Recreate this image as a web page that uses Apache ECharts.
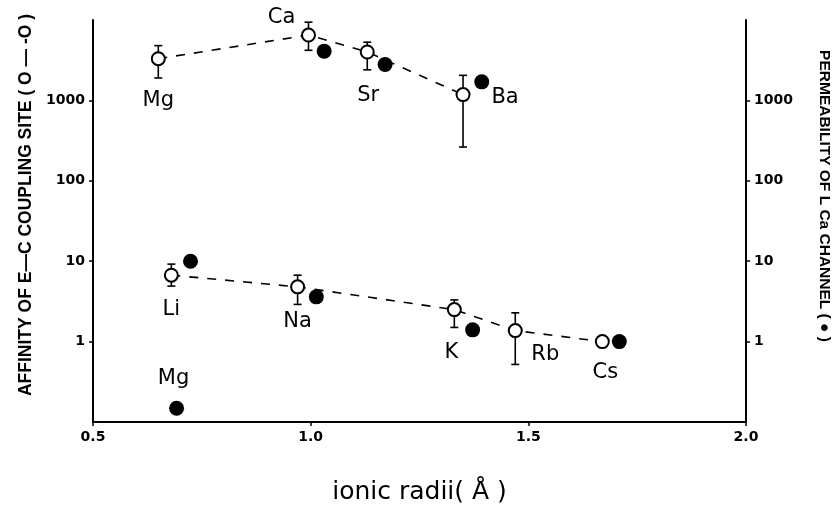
<!DOCTYPE html>
<html>
<head>
<meta charset="utf-8">
<script src="https://cdn.jsdelivr.net/npm/echarts@6/dist/echarts.min.js"></script>
<style>
html, body { margin: 0; padding: 0; background: #fff; }
#chart { width: 840px; height: 510px; }
</style>
</head>
<body>
<div id="chart"></div>
<script>
// open circles: affinity of E-C coupling site, divalent ions
var divalentIons = ['Mg', 'Ca', 'Sr', 'Ba'];
var divalentRadii = [0.65, 0.995, 1.13, 1.35];
var divalentAffinity = [3300, 6500, 4000, 1180];
var divalentErrHigh = [4800, 9400, 5300, 2050];
var divalentErrLow = [1900, 4200, 2400, 263];

// open circles: monovalent ions
var monovalentIons = ['Li', 'Na', 'K', 'Rb', 'Cs'];
var monovalentRadii = [0.68, 0.97, 1.33, 1.47, 1.67];
var monovalentAffinity = [6.7, 4.8, 2.5, 1.37, 1.0];
var monovalentErrHigh = [9.2, 6.7, 3.3, 2.28, null];
var monovalentErrLow = [4.9, 2.9, 1.5, 0.52, null];

// filled circles: permeability of L Ca channel
var permIons = ['Mg', 'Ca', 'Sr', 'Ba', 'Li', 'Na', 'K', 'Cs'];
var permRadii = [0.692, 1.031, 1.171, 1.393, 0.724, 1.013, 1.372, 1.709];
var permValues = [0.148, 4100, 2800, 1700, 10, 3.6, 1.4, 1.0];

var yTicks = [1, 10, 100, 1000];

// where each ion name sits relative to its marker (px)
var labelOffsets = {
    Mg: [0, 42], Ca: [-27, -17], Sr: [1, 44], Ba: [42, 3],
    Li: [0, 34], Na: [0, 35], K: [-3, 43], Rb: [30, 24], Cs: [3, 31]
};
var permLabelOffsets = { Mg: [-3, -30] };

var labelFont = { fontFamily: 'DejaVu Sans', fontSize: 21, color: '#000' };

function pointItems(names, xs, ys, offsets) {
    return names.map(function (n, i) {
        var item = { name: n, value: [xs[i], ys[i]] };
        if (offsets[n]) {
            item.label = Object.assign({ show: true, position: 'inside', offset: offsets[n], formatter: n }, labelFont);
        }
        return item;
    });
}

function errItems(xs, lo, hi) {
    var out = [];
    xs.forEach(function (x, i) {
        if (lo[i] != null) out.push([x, lo[i], hi[i]]);
    });
    return out;
}

function renderErr(params, api) {
    var x = api.value(0);
    var pLo = api.coord([x, api.value(1)]);
    var pHi = api.coord([x, api.value(2)]);
    var w = 4;
    var st = { stroke: '#000', lineWidth: 1.6 };
    return {
        type: 'group',
        children: [
            { type: 'line', shape: { x1: pLo[0], y1: pLo[1], x2: pHi[0], y2: pHi[1] }, style: st },
            { type: 'line', shape: { x1: pLo[0] - w, y1: pLo[1], x2: pLo[0] + w, y2: pLo[1] }, style: st },
            { type: 'line', shape: { x1: pHi[0] - w, y1: pHi[1], x2: pHi[0] + w, y2: pHi[1] }, style: st }
        ]
    };
}

var tickFont = { fontFamily: 'DejaVu Sans', fontWeight: 'bold', fontSize: 14, color: '#000' };

function yAxisCfg(pos, name, gap, rot, size, pad) {
    return {
        type: 'log',
        logBase: 10,
        min: 0.1,
        max: 10000,
        position: pos,
        name: name,
        nameLocation: 'middle',
        nameGap: gap,
        nameRotate: rot,
        nameTextStyle: { fontFamily: 'Liberation Sans', fontWeight: 'bold', fontSize: size, color: '#000', padding: pad },
        axisLine: { show: true, lineStyle: { color: '#000', width: 2 } },
        axisTick: { show: true, length: 4, customValues: yTicks, lineStyle: { color: '#000', width: 1.5 } },
        axisLabel: Object.assign({ customValues: yTicks, margin: 8, formatter: function (v) { return String(v); } }, tickFont),
        splitLine: { show: false },
        minorTick: { show: false }
    };
}

var lineBase = {
    type: 'line',
    symbol: 'circle',
    symbolSize: 13,
    itemStyle: { color: '#fff', borderColor: '#000', borderWidth: 2 },
    lineStyle: { color: '#000', width: 1.6, type: [9, 9] },
    emphasis: { disabled: true },
    z: 3
};

var chart = echarts.init(document.getElementById('chart'));
chart.setOption({
    backgroundColor: '#fff',
    animation: false,
    grid: { left: 93, right: 92, top: 20, bottom: 86 },
    xAxis: {
        type: 'value',
        min: 0.5,
        max: 2.0,
        interval: 0.5,
        name: 'ionic radii( Å )',
        nameLocation: 'middle',
        nameGap: 58,
        nameTextStyle: { fontFamily: 'DejaVu Sans', fontSize: 25, color: '#000' },
        axisLine: { lineStyle: { color: '#000', width: 2 } },
        axisTick: { show: true, length: 4, lineStyle: { color: '#000', width: 1.5 } },
        axisLabel: Object.assign({ margin: 8, formatter: function (v) { return v.toFixed(1); } }, tickFont),
        splitLine: { show: false }
    },
    yAxis: [
        yAxisCfg('left', 'AFFINITY OF E\u2014C COUPLING SITE ( O \u2014 -O )', 55, 90, 17.5, [0, 0, 0, 32]),
        yAxisCfg('right', 'PERMEABILITY OF L Ca CHANNEL ( \u25CF )', 70, -90, 15.5, [0, 50, 0, 0])
    ],
    series: [
        {
            type: 'custom',
            renderItem: renderErr,
            data: errItems(divalentRadii, divalentErrLow, divalentErrHigh).concat(
                errItems(monovalentRadii, monovalentErrLow, monovalentErrHigh)),
            encode: { x: 0, y: [1, 2] },
            z: 2
        },
        Object.assign({ data: pointItems(divalentIons, divalentRadii, divalentAffinity, labelOffsets) }, lineBase),
        Object.assign({ data: pointItems(monovalentIons, monovalentRadii, monovalentAffinity, labelOffsets) }, lineBase),
        {
            type: 'scatter',
            yAxisIndex: 1,
            symbol: 'circle',
            symbolSize: 15,
            itemStyle: { color: '#000', opacity: 1 },
            emphasis: { disabled: true },
            data: pointItems(permIons, permRadii, permValues, permLabelOffsets),
            z: 4
        }
    ]
});
</script>
</body>
</html>
